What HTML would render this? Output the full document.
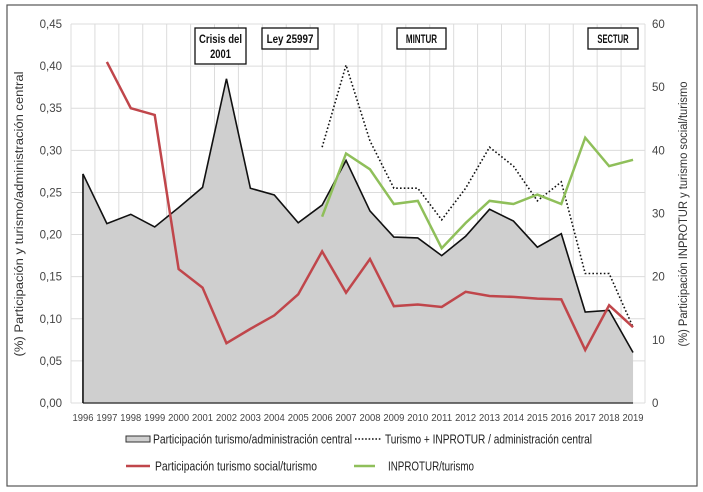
<!DOCTYPE html>
<html><head><meta charset="utf-8"><style>
body{margin:0;background:#fff;}
svg{display:block;font-family:"Liberation Sans",sans-serif;}
</style></head><body>
<svg id="c" width="703" height="492" viewBox="0 0 703 492">
<rect x="7" y="5" width="690" height="481" fill="#fff" stroke="#555" stroke-width="1.2"/>
<g id="grid"></g>
<g id="marks"></g>
<g id="axes" fill="#444" font-size="11.5"></g>
</svg>
<script>
const years=[1996,1997,1998,1999,2000,2001,2002,2003,2004,2005,2006,2007,2008,2009,2010,2011,2012,2013,2014,2015,2016,2017,2018,2019];
const adminShare=[0.272,0.213,0.224,0.209,0.232,0.256,0.385,0.255,0.247,0.214,0.235,0.288,0.228,0.197,0.196,0.175,0.198,0.230,0.216,0.185,0.201,0.108,0.110,0.060];
const socialShare=[null,0.405,0.350,0.342,0.159,0.137,0.071,0.088,0.104,0.129,0.180,0.131,0.171,0.115,0.117,0.114,0.132,0.127,0.126,0.124,0.123,0.063,0.116,0.090];
const inproturAdmin=[null,null,null,null,null,null,null,null,null,null,40.5,53.5,41.5,34,34,29,34,40.5,37.5,32,35,20.5,20.5,12];
const inproturTurismo=[null,null,null,null,null,null,null,null,null,null,29.5,39.5,37,31.5,32,24.5,28.5,32,31.5,33,31.5,42,37.5,38.5];
const leftTicks=["0,00","0,05","0,10","0,15","0,20","0,25","0,30","0,35","0,40","0,45"];
const rightTicks=[0,10,20,30,40,50,60];
const annotations=[["Crisis del|2001",195,246],["Ley 25997",262,318],["MINTUR",397,446],["SECTUR",588,638]];

const NS="http://www.w3.org/2000/svg";
const X0=71,X1=645,Y0=403,Y1=24;
const step=(X1-X0)/years.length;
const x=i=>X0+step*(i+0.5);
const yL=v=>Y0-(v/0.45)*(Y0-Y1);
const yR=v=>Y0-(v/60)*(Y0-Y1);
function el(tag,attrs,parent){const e=document.createElementNS(NS,tag);for(const k in attrs)e.setAttribute(k,attrs[k]);parent.appendChild(e);return e;}
const grid=document.getElementById('grid'),marks=document.getElementById('marks'),axes=document.getElementById('axes');

leftTicks.forEach((t,i)=>{const v=i*0.05;
 const g=el('line',{x1:X0,x2:X1,y1:yL(v),y2:yL(v),stroke:'#dcdcdc'},grid);
 
 const tx=el('text',{x:62,y:yL(v)+4,'text-anchor':'end'},axes);tx.textContent=t;
 
});
rightTicks.forEach(v=>{const tx=el('text',{x:652,y:yR(v)+4},axes);tx.textContent=v;
 });
for(let i=0;i<=years.length;i++){const g=el('line',{x1:X0+step*i,x2:X0+step*i,y1:Y1,y2:Y0,stroke:'#dcdcdc'},grid);
 }
years.forEach((yr,i)=>{const tx=el('text',{x:x(i),y:421,'text-anchor':'middle','font-size':'10',textLength:'21',lengthAdjust:'spacingAndGlyphs'},axes);tx.textContent=yr;
 });

let d=`M${x(0)},${Y0} `+adminShare.map((v,i)=>`L${x(i)},${yL(v)}`).join(' ')+` L${x(years.length-1)},${Y0}Z`;
const area=el('path',{d,fill:'#cfcfcf',stroke:'none'},marks);

const aline=el('polyline',{points:adminShare.map((v,i)=>`${x(i)},${yL(v)}`).join(' '),fill:'none',stroke:'#111','stroke-width':1.6},marks);

const base=el('line',{x1:x(0),x2:x(years.length-1),y1:Y0,y2:Y0,stroke:'#444','stroke-width':1.5},marks);

const lv=el('line',{x1:x(0),x2:x(0),y1:Y0,y2:yL(adminShare[0]),stroke:'#111','stroke-width':1.6},marks);


function pts(arr,f){return arr.map((v,i)=>v==null?null:`${x(i)},${f(v)}`).filter(p=>p).join(' ');}
const dot=el('polyline',{points:pts(inproturAdmin,yR),fill:'none',stroke:'#111','stroke-width':1.6,'stroke-dasharray':'1.6 2.2'},marks);

const gr=el('polyline',{points:pts(inproturTurismo,yR),fill:'none',stroke:'#8fbf5a','stroke-width':2.5},marks);

const rd=el('polyline',{points:pts(socialShare,yL),fill:'none',stroke:'#c0464b','stroke-width':2.5},marks);


annotations.forEach(([t,bx0,bx1])=>{const lines=t.split('|');
 const w=bx1-bx0,h=lines.length*15+6;const cx=(bx0+bx1)/2;
 const r=el('rect',{x:bx0,y:28,width:w,height:h,fill:'#fff',stroke:'#111','stroke-width':1.3},marks);
 
 lines.forEach((ln,k)=>{const tx=el('text',{x:cx,y:43+k*15,'text-anchor':'middle','font-size':'12','font-weight':'bold',fill:'#111',textLength:Math.min(w-8,ln.length*5.2),lengthAdjust:'spacingAndGlyphs'},marks);tx.textContent=ln;
  });
});

function vtitle(txt,cx,cy,tl,name){const tx=el('text',{x:0,y:0,transform:`translate(${cx},${cy}) rotate(-90)`,'text-anchor':'middle','font-size':'11.5',fill:'#333',textLength:tl,lengthAdjust:'spacingAndGlyphs'},axes);tx.textContent=txt;
 }
vtitle('(%) Participación y turismo/administración central',23,214,285,'left-axis-title');
vtitle('(%) Participación INPROTUR y turismo social/turismo',687,214,265,'right-axis-title');

function legend(kind,sx0,sx1,ly,txt,tx0,tx1,name){
 let s;
 if(kind==='area') s=el('rect',{x:sx0,y:ly-3,width:sx1-sx0,height:6,fill:'#cfcfcf',stroke:'#333','stroke-width':1},axes);
 else if(kind==='dot') s=el('line',{x1:sx0,x2:sx1,y1:ly,y2:ly,stroke:'#111','stroke-width':1.6,'stroke-dasharray':'1.6 1.8'},axes);
 else s=el('line',{x1:sx0,x2:sx1,y1:ly,y2:ly,stroke:kind,'stroke-width':2.5},axes);
 
 const tx=el('text',{x:tx0,y:ly+4.5,'font-size':'12.5',fill:'#222',textLength:tx1-tx0,lengthAdjust:'spacingAndGlyphs'},axes);tx.textContent=txt;
 
}
legend('area',126,150,439,'Participación turismo/administración central',153,352,'legend-admin-share');
legend('dot',355,381,439,'Turismo + INPROTUR / administración central',385,592,'legend-turismo-inprotur');
legend('#c0464b',126,150,466,'Participación turismo social/turismo',155,317,'legend-social-share');
legend('#8fbf5a',354,375,466,'INPROTUR/turismo',388,474,'legend-inprotur-turismo');
</script>
</body></html>
